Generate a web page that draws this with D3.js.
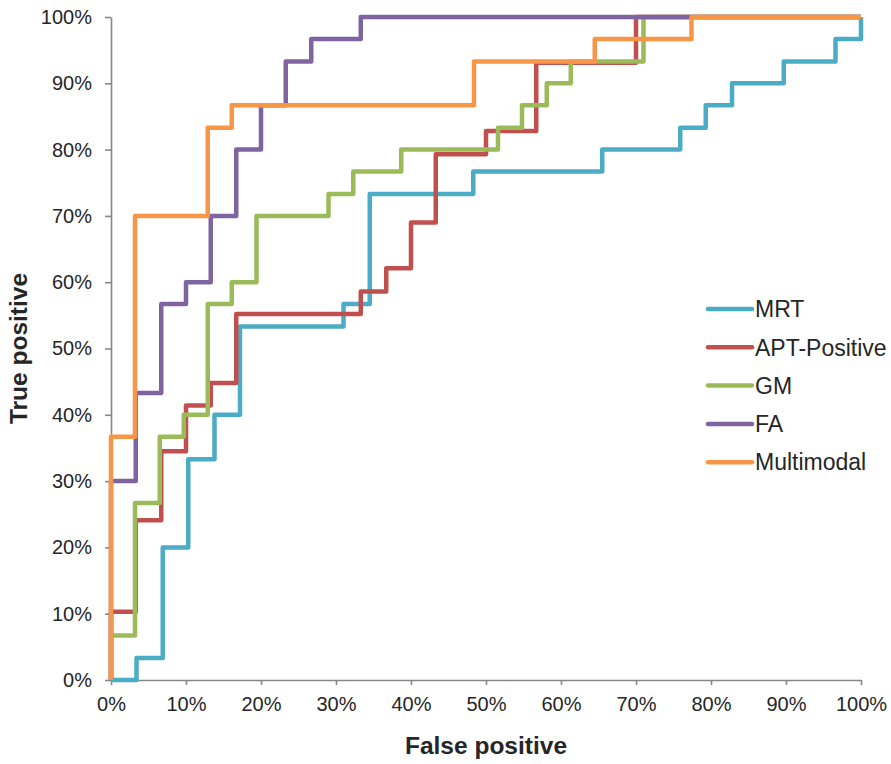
<!DOCTYPE html>
<html>
<head>
<meta charset="utf-8">
<script src="https://cdn.jsdelivr.net/npm/d3@7"></script>
<style>
    body { margin: 0; background: #fff; }
    svg { display: block; }
</style>
</head>
<body>
<div class="chart"></div>
<script>
// ROC points, in percent
const names = ["MRT", "APT-Positive", "GM", "FA", "Multimodal"];
const colors = ["#4BACC6", "#C0504D", "#9BBB59", "#8064A2", "#F79646"];

const mrtFpr = [0, 3.4, 6.9, 10.3, 13.8, 17.2, 31.0, 34.5, 48.3, 65.5, 75.9, 79.3, 82.8, 89.7, 96.6, 100];
const mrtTpr = [0, 3.3, 20, 33.3, 40, 53.3, 56.7, 73.3, 76.7, 80, 83.3, 86.7, 90, 93.3, 96.7, 100];

const aptFpr = [0, 0, 3.3, 6.7, 10, 13.3, 16.7, 33.3, 36.7, 40, 43.3, 50, 56.7, 70, 100];
const aptTpr = [0, 10.3, 24.1, 34.5, 41.4, 44.8, 55.2, 58.6, 62.1, 69, 79.3, 82.8, 93.1, 100, 100];

const gmFpr = [0, 0, 3.2, 6.5, 9.7, 12.9, 16.1, 19.4, 29.0, 32.3, 38.7, 51.6, 54.8, 58.1, 61.3, 71.0, 100];
const gmTpr = [0, 6.7, 26.7, 36.7, 40, 56.7, 60, 70, 73.3, 76.7, 80, 83.3, 86.7, 90, 93.3, 100, 100];

const faFpr = [0, 0, 3.3, 6.7, 10, 13.3, 16.7, 20, 23.3, 26.7, 33.3, 100];
const faTpr = [0, 30, 43.3, 56.7, 60, 70, 80, 86.7, 93.3, 96.7, 100, 100];

const multiFpr = [0, 0, 3.2, 12.9, 16.1, 48.4, 64.5, 77.4, 100];
const multiTpr = [0, 36.7, 70, 83.3, 86.7, 93.3, 96.7, 100, 100];

const ticks = [0, 10, 20, 30, 40, 50, 60, 70, 80, 90, 100];

const series = [
    [mrtFpr, mrtTpr], [aptFpr, aptTpr], [gmFpr, gmTpr], [faFpr, faTpr], [multiFpr, multiTpr]
].map((s, i) => ({
    name: names[i],
    color: colors[i],
    points: s[0].map((x, j) => [x, s[1][j]])
}));

const width = 891, height = 764;
const margin = {top: 17, right: 30, bottom: 84, left: 111};

const x = d3.scaleLinear([0, 100], [margin.left, width - margin.right]);
const y = d3.scaleLinear([0, 100], [height - margin.bottom, margin.top]);

const svg = d3.select(".chart")
    .append("svg")
    .attr("width", width)
    .attr("height", height)
    .attr("font-family", "Liberation Sans, Arial, sans-serif");

const axisColor = "#878787";
const textColor = "#262626";

// x axis
const xAxis = svg.append("g")
    .attr("transform", `translate(0,${y(0)})`)
    .call(d3.axisBottom(x).tickValues(ticks).tickFormat(d => d + "%").tickSize(5).tickPadding(12).tickSizeOuter(0));

// y axis
const yAxis = svg.append("g")
    .attr("transform", `translate(${x(0)},0)`)
    .call(d3.axisLeft(y).tickValues(ticks).tickFormat(d => d + "%").tickSize(6).tickPadding(13).tickSizeOuter(0));

[xAxis, yAxis].forEach(g => {
    g.select(".domain").attr("stroke", axisColor).attr("stroke-width", 1.6);
    g.selectAll(".tick line").attr("stroke", axisColor).attr("stroke-width", 1.6);
    g.selectAll(".tick text")
        .attr("fill", textColor)
        .attr("font-size", 20);
});

// curves
const line = d3.line()
    .x(d => x(d[0]))
    .y(d => y(d[1]))
    .curve(d3.curveStepAfter);

svg.append("g")
    .selectAll("path")
    .data(series)
    .join("path")
    .attr("d", d => line(d.points))
    .attr("fill", "none")
    .attr("stroke", d => d.color)
    .attr("stroke-width", 4.5)
    .attr("stroke-linejoin", "round");

// axis titles
svg.append("text")
    .attr("x", (x(0) + x(100)) / 2)
    .attr("y", 754)
    .attr("text-anchor", "middle")
    .attr("font-size", 24.5)
    .attr("font-weight", "bold")
    .attr("fill", textColor)
    .text("False positive");

svg.append("text")
    .attr("transform", `translate(27,${(y(0) + y(100)) / 2}) rotate(-90)`)
    .attr("text-anchor", "middle")
    .attr("font-size", 24.5)
    .attr("font-weight", "bold")
    .attr("fill", textColor)
    .text("True positive");

// legend
const legend = svg.append("g")
    .selectAll("g")
    .data(series)
    .join("g")
    .attr("transform", (d, i) => `translate(708,${309 + i * 38.3})`);

legend.append("line")
    .attr("x1", 0)
    .attr("x2", 44)
    .attr("stroke", d => d.color)
    .attr("stroke-width", 4.5)
    .attr("stroke-linecap", "round");

legend.append("text")
    .attr("x", 47)
    .attr("dy", "0.36em")
    .attr("font-size", 23)
    .attr("fill", textColor)
    .text(d => d.name);
</script>
</body>
</html>
